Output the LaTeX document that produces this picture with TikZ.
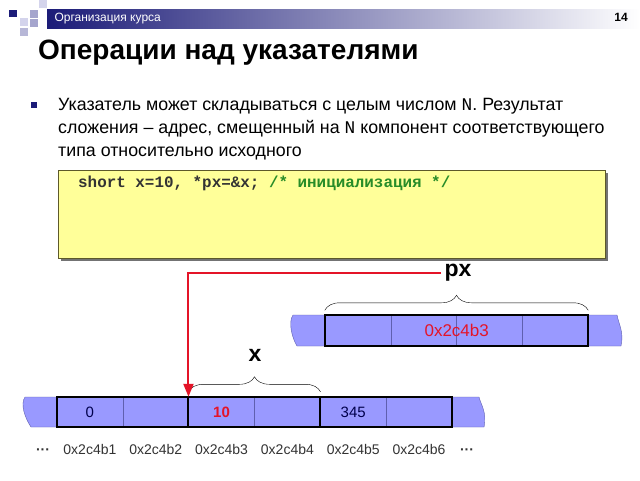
\documentclass[tikz,border=0pt]{standalone}
\usepackage{fontspec}
\setmainfont{Liberation Sans}
\newfontfamily\codefont{Liberation Mono}
\usetikzlibrary{positioning,arrows.meta,decorations.pathreplacing}

\definecolor{mem}{RGB}{153,153,255}
\definecolor{memline}{RGB}{95,95,175}
\definecolor{navyband}{RGB}{28,28,120}
\definecolor{lilac}{RGB}{165,165,205}
\definecolor{lilacpale}{RGB}{212,212,236}
\definecolor{note}{RGB}{255,255,153}
\definecolor{ptrred}{RGB}{228,20,40}
\definecolor{cmtgreen}{RGB}{40,140,40}

\tikzset{
  cell/.style={draw=memline, fill=mem, minimum width=65.8pt, minimum height=30pt,
    inner sep=0pt, font=\fontsize{15}{15}\selectfont, text=black!70!blue},
  addr/.style={font=\fontsize{14}{14}\selectfont, text=black!80},
  brace/.style={decorate, decoration={brace, amplitude=15pt}, thin},
  lbl/.style={font=\bfseries\fontsize{23}{23}\selectfont},
  frame/.style={line width=2pt},
  ptr/.style={ptrred, line width=2pt, -{Triangle[width=10pt,length=13pt]}},
}

\begin{document}
\begin{tikzpicture}[x=1pt,y=-1pt]
\useasboundingbox (0,0) rectangle (640,480);
\fill[white] (0,0) rectangle (640,480);

% header band and squares
\shade[left color=navyband, right color=white] (47,9) rectangle (640,28);
\fill[lilacpale] (39,0) rectangle (47,8);
\fill[lilac] (30,10) rectangle (38,18);
\fill[lilacpale] (20,18) rectangle (28,26);
\fill[lilac] (30,19) rectangle (38,27);
\fill[lilac!80] (20,28) rectangle (28,36);
\fill[navyband] (9,10) rectangle (17,17);
\node[anchor=west, text=white, font=\fontsize{12}{12}\selectfont] (course) at (51,18.5) {Организация курса};
\node[font=\bfseries\fontsize{12}{12}\selectfont] (page) at (621,17) {14};

% title and bullet
\node[anchor=west, inner sep=0pt, font=\bfseries\fontsize{28}{28}\selectfont] (title) at (38,53) {Операции над указателями};
\fill[navyband] (31,102) rectangle (37,108);
\node[anchor=north west, align=left, inner sep=0pt, font=\fontsize{17.8}{23}\selectfont] (rule) at (58,98)
  {Указатель может складываться с целым числом {\codefont N}. Результат\\
   сложения – адрес, смещенный на {\codefont N} компонент соответствующего\\
   типа относительно исходного};

% code box
\fill[black!55] (61,173) rectangle (608,261);
\node[draw=black!45!olive, fill=note, minimum width=547pt, minimum height=88pt,
  anchor=north west, inner sep=0pt] (code) at (58,170) {};
\node[anchor=west, inner sep=0pt, font=\codefont\bfseries\fontsize{15.9}{16}\selectfont, text=black!80] (decl) at (78,183)
  {short x=10, *px=\&x; \textcolor{cmtgreen}{/* инициализация */}};

% memory strips
\filldraw[fill=mem, draw=memline] (293,315) -- (617,315) .. controls (619,325) and (624,332) .. (621,346)
  -- (297,346) .. controls (292,338) and (288,322) .. cycle;
\filldraw[fill=mem, draw=memline] (25,397) -- (479,397) .. controls (481,405) and (487,412) .. (484,427)
  -- (31,427) .. controls (25,418) and (20,404) .. cycle;

% cells
\foreach \i in {1,...,4}
  \node[cell] (up\i) at ({325+(\i-0.5)*65.75},330.5) {};
\foreach \i/\v in {1/0, 2/{}, 3/{\textcolor{ptrred}{\bfseries 10}}, 4/{}, 5/345, 6/{}}
  \node[cell] (lo\i) at ({57+(\i-0.5)*65.83},412) {\v};
\node[text=ptrred, font=\fontsize{17}{17}\selectfont] (pval) at (up2.east) {0x2c4b3};

\draw[frame] (up1.north west) rectangle (up4.south east);
\draw[frame] (lo1.north west) rectangle (lo6.south east);
\draw[frame] (lo3.north west) -- (lo3.south west) (lo5.north west) -- (lo5.south west);

% addresses
\coordinate (row) at (0,449);
\foreach \i in {1,...,6}
  \node[addr] (a\i) at (lo\i |- row) {0x2c4b\i};
\node[addr, font=\bfseries\fontsize{14}{14}\selectfont] (dl) at (43,452) {···};
\node[addr, font=\bfseries\fontsize{14}{14}\selectfont] (dr) at (467,452) {···};

% braces, labels, pointer
\draw[brace] ([yshift=5pt]up1.north west) -- ([yshift=5pt]up4.north east);
\draw[brace] ([yshift=5pt]lo3.north west) -- ([yshift=5pt]lo4.north east);
\node[lbl] (px) at (458,273) {px};
\node[lbl] (x) at (255,355) {x};
\draw[ptr] (px.west) -| (lo3.north west);
\end{tikzpicture}
\end{document}
